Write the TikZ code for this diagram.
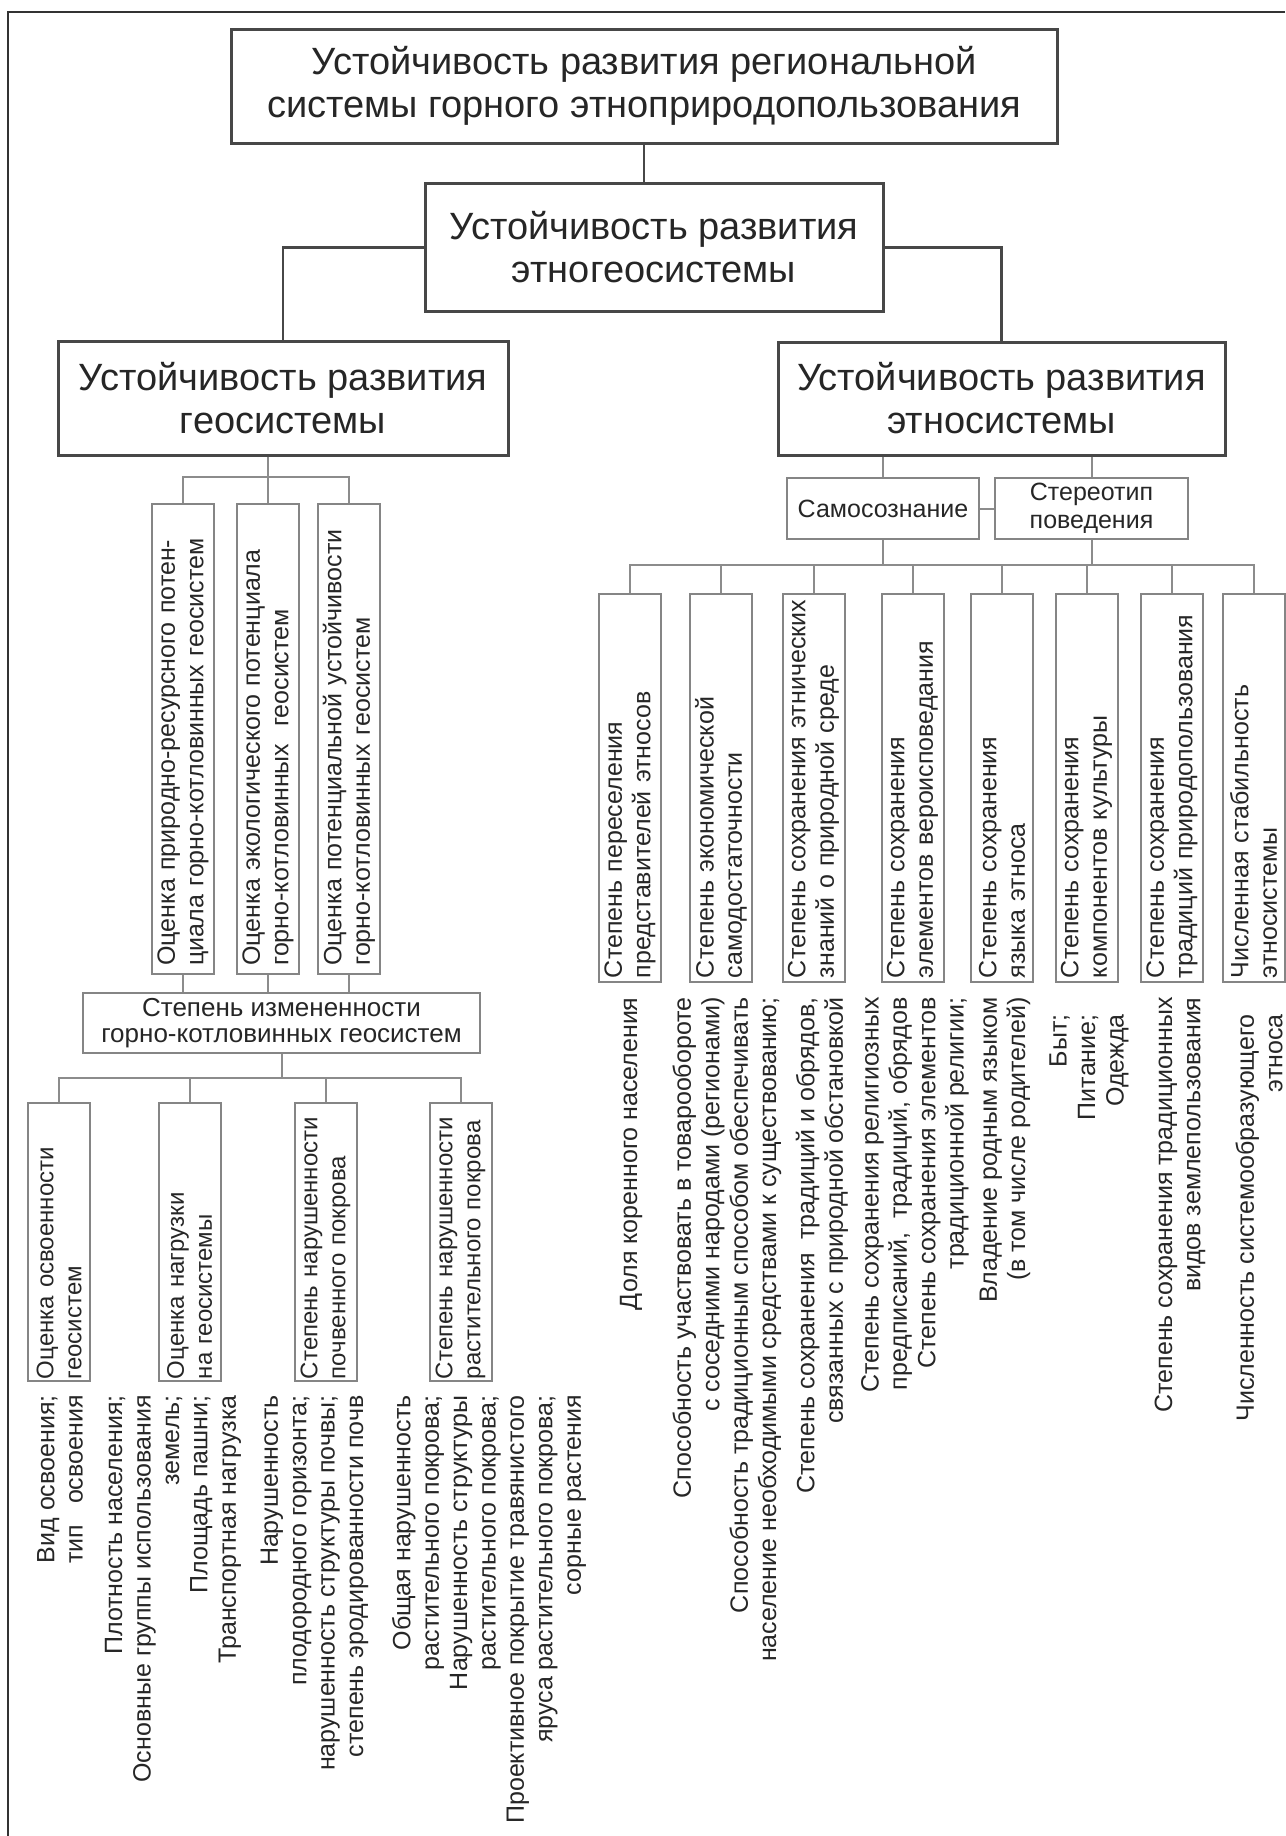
\documentclass[tikz,border=0pt]{standalone}
\usepackage{fontspec}
\setmainfont{Liberation Sans}

\newcommand{\headsize}{\fontsize{19}{21.5}\selectfont}
\newcommand{\notesize}{\fontsize{12.5}{14.2}\selectfont}

\tikzset{
	headbox/.style={draw=black!72, line width=1.5pt, align=center, font=\headsize, text=black!85},
	sidebox/.style={draw=black!48, line width=1pt, align=center, inner ysep=1.5pt, font=\notesize, text=black!85},
	turnbox/.style={sidebox, rotate=90, align=left, inner xsep=2pt, minimum height=31pt},
	note/.style={rotate=90, align=right, anchor=east, inner sep=0pt, font=\notesize, text=black!85},
	headline/.style={draw=black!72, line width=1.1pt},
	sideline/.style={draw=black!45, line width=1pt}
}

\begin{document}
\begin{tikzpicture}[x=0.5pt, y=-0.5pt]
		\useasboundingbox (0,0) rectangle (1285,1836);
		\draw[black!80, line width=0.8pt] (1285,12) -- (8,12) -- (8,1836);

		\draw (644,86) node [headbox, minimum width=413pt, minimum height=57pt] (top) {Устойчивость развития региональной\\системы горного этноприродопользования};
		\draw (654,247.5) node [headbox, minimum width=229pt, minimum height=64pt] (ethnogeo) {Устойчивость развития\\этногеосистемы};
		\draw (283,398) node [headbox, minimum width=225pt, minimum height=57pt] (geo) {Устойчивость развития\\геосистемы};
		\draw (1001.5,398.5) node [headbox, minimum width=223.5pt, minimum height=56.5pt] (ethno) {Устойчивость развития\\этносистемы};

		\draw (183,738.5) node [turnbox, inner xsep=4pt, text width=227pt] (ev1) {Оценка природно-ресурсного потен-\\циала горно-котловинных геосистем};
		\draw (268,738.5) node [turnbox, inner xsep=4pt, text width=227pt] (ev2) {Оценка экологического потенциала\\горно-котловинных~~геосистем};
		\draw (349,738.5) node [turnbox, inner xsep=4pt, text width=227pt] (ev3) {Оценка потенциальной устойчивости\\горно-котловинных геосистем};

		\draw (281.5,1023) node [sidebox, minimum width=198.5pt, minimum height=30pt, font=\fontsize{13}{13}\selectfont] (izm) {Степень измененности\\горно-котловинных геосистем};

		\draw (59,1242) node [turnbox, inner xsep=1pt, text width=137pt, font=\fontsize{12}{14}\selectfont] (oa) {Оценка освоенности\\геосистем};
		\draw (189.5,1242) node [turnbox, inner xsep=1pt, text width=137pt, font=\fontsize{12}{14}\selectfont] (ob) {Оценка нагрузки\\на геосистемы};
		\draw (325.5,1242) node [turnbox, inner xsep=1pt, text width=137pt, font=\fontsize{12}{14}\selectfont] (oc) {Степень нарушенности\\почвенного покрова};
		\draw (460.5,1242) node [turnbox, inner xsep=1pt, text width=137pt, font=\fontsize{12}{14}\selectfont] (od) {Степень нарушенности\\растительного покрова};

		\draw (60,1395) node [note] (la) {Вид освоения;\\тип~~~освоения};
		\draw (173,1395) node [note] (lb) {Плотность населения;\\Основные группы использования\\земель;\\Площадь пашни;\\Транспортная нагрузка};
		\draw (314.5,1395) node [note] (lc) {Нарушенность\\плодородного горизонта;\\нарушенность структуры почвы;\\степень эродированности почв};
		\draw (489,1395) node [note] (ld) {Общая нарушенность\\растительного покрова;\\Нарушенность структуры\\растительного покрова;\\Проективное покрытие травянистого\\яруса растительного покрова;\\сорные растения};

		\draw (883,508.5) node [sidebox, minimum width=96pt, minimum height=30.5pt] (sam) {Самосознание};
		\draw (1091.5,508.5) node [sidebox, minimum width=96.5pt, minimum height=30.5pt] (ster) {Стереотип\\поведения};

		\draw (630,788) node [turnbox, text width=190pt] (e1) {Степень переселения\\представителей этносов};
		\draw (721,788) node [turnbox, text width=190pt] (e2) {Степень экономической\\самодостаточности};
		\draw (813.5,788) node [turnbox, text width=190pt] (e3) {Степень сохранения этнических\\знаний о природной среде};
		\draw (912.5,788) node [turnbox, text width=190pt] (e4) {Степень сохранения\\элементов вероисповедания};
		\draw (1002,788) node [turnbox, text width=190pt] (e5) {Степень сохранения\\языка этноса};
		\draw (1086.5,788) node [turnbox, text width=190pt] (e6) {Степень сохранения\\компонентов культуры};
		\draw (1172,788) node [turnbox, text width=190pt] (e7) {Степень сохранения\\традиций природопользования};
		\draw (1253.5,788) node [turnbox, text width=190pt] (e8) {Численная стабильность\\этносистемы};

		\draw (631,997) node [note] (ra) {Доля коренного населения};
		\draw (727,997) node [note] (rb) {Способность участвовать в товарообороте\\с соседними народами (регионами)\\Способность традиционным способом обеспечивать\\население необходимыми средствами к существованию;};
		\draw (822,997) node [note] (rc) {Степень сохранения~~традиций и обрядов,\\связанных с природной обстановкой};
		\draw (915,997) node [note] (rd) {Степень сохранения религиозных\\предписаний,~~традиций, обрядов\\Степень сохранения элементов\\традиционной религии;};
		\draw (1005,997) node [note] (re) {Владение родным языком\\(в том числе родителей)};
		\draw (1089,1014) node [note] (rf) {Быт;\\Питание;\\Одежда};
		\draw (1180,997) node [note] (rg) {Степень сохранения традиционных\\видов землепользования};
		\draw (1259,1014) node [note] (rh) {Численность системообразующего\\этноса};

		\draw[headline] (top.south) -- (top.south |- ethnogeo.north);
		\draw[headline] (ethnogeo.west) -| (geo.north);
		\draw[headline] (ethnogeo.east) -| (ethno.north);

		\path (ev1.east) ++(0,-26) coordinate (gbus);
		\draw[sideline] (ev2.east |- geo.south) -- (ev2.east);
		\draw[sideline] (ev1.east) -- (gbus) -| (ev3.east);
		\draw[sideline] (ev1.west) -- (ev1.west |- izm.north);
		\draw[sideline] (ev2.west) -- (ev2.west |- izm.north);
		\draw[sideline] (ev3.west) -- (ev3.west |- izm.north);

		\path (oa.east) ++(0,-24) coordinate (obus);
		\draw[sideline] (izm.south) -- (izm.south |- obus);
		\draw[sideline] (oa.east) -- (obus) -| (od.east);
		\draw[sideline] (ob.east) -- (ob.east |- obus);
		\draw[sideline] (oc.east) -- (oc.east |- obus);

		\draw[sideline] (sam.north |- ethno.south) -- (sam.north);
		\draw[sideline] (ster.north |- ethno.south) -- (ster.north);
		\draw[sideline] (sam.east) -- (ster.west);
		\path (e1.east) ++(0,-28) coordinate (ebus);
		\draw[sideline] (sam.south) -- (sam.south |- ebus);
		\draw[sideline] (ster.south) -- (ster.south |- ebus);
		\draw[sideline] (e1.east) -- (ebus) -| (e8.east);
		\draw[sideline] (e2.east) -- (e2.east |- ebus);
		\draw[sideline] (e3.east) -- (e3.east |- ebus);
		\draw[sideline] (e4.east) -- (e4.east |- ebus);
		\draw[sideline] (e5.east) -- (e5.east |- ebus);
		\draw[sideline] (e6.east) -- (e6.east |- ebus);
		\draw[sideline] (e7.east) -- (e7.east |- ebus);
	\end{tikzpicture}
\end{document}
